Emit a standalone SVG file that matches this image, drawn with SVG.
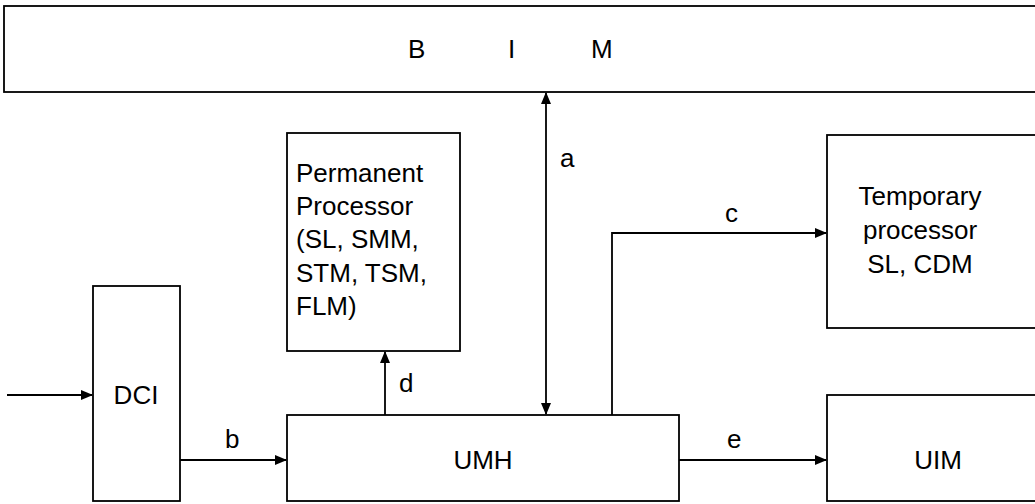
<svg xmlns="http://www.w3.org/2000/svg" width="1035" height="504" viewBox="0 0 1035 504">
<style>
.box{fill:#fff;stroke:#000;stroke-width:1.8}
.ln{fill:none;stroke:#000;stroke-width:1.8}
text{font-family:"Liberation Sans",Arial,sans-serif;font-size:26px;fill:#000}
.c{text-anchor:middle}
</style>
<defs>
<marker id="ah" markerWidth="12" markerHeight="10" refX="11" refY="5" orient="auto" markerUnits="userSpaceOnUse">
<path d="M0,0 L12,5 L0,10 Z" fill="#000"/>
</marker>
<marker id="as" markerWidth="12" markerHeight="10" refX="1" refY="5" orient="auto" markerUnits="userSpaceOnUse">
<path d="M12,0 L0,5 L12,10 Z" fill="#000"/>
</marker>
</defs>
<g id="BIM"><rect class="box" x="4" y="6" width="1040" height="86"/><text x="408" y="58">B</text><text x="508" y="58">I</text><text x="591" y="58">M</text></g>
<g id="Permanent"><rect class="box" x="287" y="133" width="173" height="218"/>
<text x="296" y="182">Permanent</text><text x="296" y="215">Processor</text><text x="296" y="248">(SL, SMM,</text><text x="296" y="282">STM, TSM,</text><text x="296" y="315">FLM)</text></g>
<g id="Temporary"><rect class="box" x="827" y="135" width="220" height="193"/>
<text class="c" x="920" y="205">Temporary</text><text class="c" x="920" y="239">processor</text><text class="c" x="920" y="273">SL, CDM</text></g>
<g id="DCI"><rect class="box" x="93" y="286" width="87" height="215"/><text class="c" x="136" y="404">DCI</text></g>
<g id="UMH"><rect class="box" x="287" y="415" width="392" height="86"/><text class="c" x="483" y="469">UMH</text></g>
<g id="UIM"><rect class="box" x="827" y="395" width="220" height="106"/><text class="c" x="938" y="469">UIM</text></g>
<g id="connectors">
<line class="ln" x1="546" y1="93" x2="546" y2="414" marker-start="url(#as)" marker-end="url(#ah)"/>
<text x="560" y="167">a</text>
<line class="ln" x1="7" y1="395" x2="92" y2="395" marker-end="url(#ah)"/>
<line class="ln" x1="180" y1="460" x2="286" y2="460" marker-end="url(#ah)"/>
<text x="225" y="448">b</text>
<polyline class="ln" points="612,415 612,233 826,233" marker-end="url(#ah)"/>
<text x="725" y="222">c</text>
<line class="ln" x1="385" y1="415" x2="385" y2="352" marker-end="url(#ah)"/>
<text x="399" y="392">d</text>
<line class="ln" x1="679" y1="460" x2="826" y2="460" marker-end="url(#ah)"/>
<text x="727" y="448">e</text>
</g>
</svg>
